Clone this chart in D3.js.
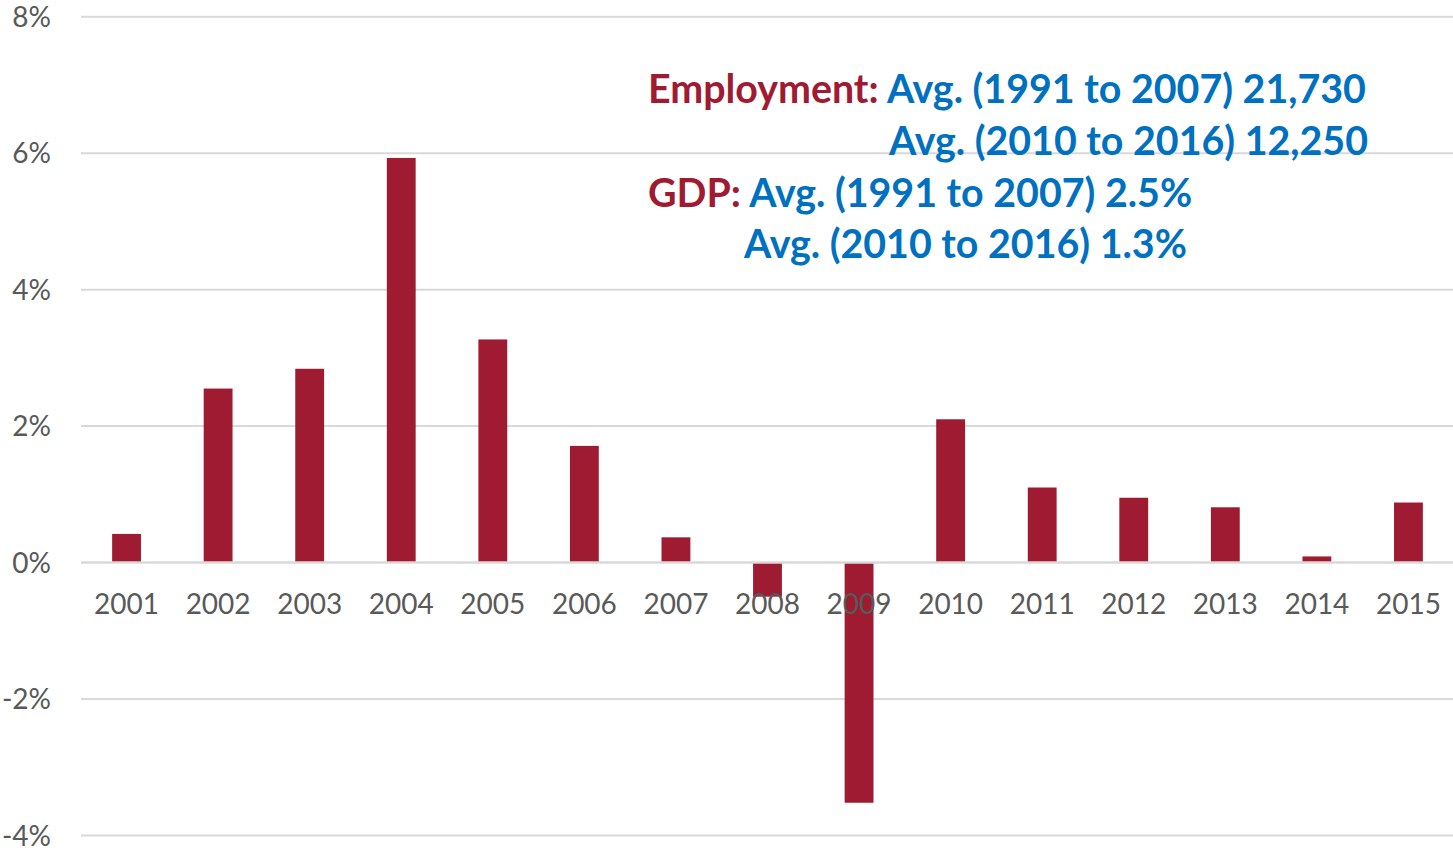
<!DOCTYPE html>
<html><head><meta charset="utf-8">
<script src="https://cdn.jsdelivr.net/npm/d3@7"></script>
<style>body{margin:0;background:#fff}svg{display:block}</style>
</head><body>
<svg id="chart" width="1453" height="850"></svg>
<script>
const years = ["2001","2002","2003","2004","2005","2006","2007","2008","2009","2010","2011","2012","2013","2014","2015"];
const gdpGrowth = [0.42, 2.55, 2.84, 5.93, 3.27, 1.71, 0.37, -0.50, -3.52, 2.10, 1.10, 0.95, 0.81, 0.09, 0.88];
const yTicks = [-4, -2, 0, 2, 4, 6, 8];
const annotationLines = [
  {label: "Employment: ", text: "Avg. (1991 to 2007) 21,730"},
  {label: "", text: "Avg. (2010 to 2016) 12,250"},
  {label: "GDP: ", text: "Avg. (1991 to 2007) 2.5%"},
  {label: "", text: "Avg. (2010 to 2016) 1.3%"}
];

const svg = d3.select("#chart");
const red = "#9E1B32", blue = "#0070C0", grey = "#595959", grid = "#D9D9D9";
const font = "Lato, 'Open Sans', sans-serif";

const x = d3.scaleBand().domain(years).range([81, 1454]).paddingInner(0.685).paddingOuter(0.34);
const y = d3.scaleLinear().domain([-4, 8]).range([835.5, 16.7]);

const yAxis = d3.axisLeft(y).tickValues(yTicks).tickFormat(d => d + "%").tickSize(0).tickPadding(0);
const gY = svg.append("g").attr("transform", "translate(51,0)").call(yAxis);
gY.select(".domain").remove();
gY.selectAll("text").attr("font-family", font).attr("font-size", 28).attr("fill", grey).attr("dy", "0.35em");

svg.append("g").selectAll("line").data(yTicks.filter(d => d !== 0)).join("line")
  .attr("x1", 81).attr("x2", 1453).attr("y1", d => y(d)).attr("y2", d => y(d))
  .attr("stroke", grid).attr("stroke-width", 2);

svg.append("g").selectAll("rect").data(years.map((yr, i) => ({yr, v: gdpGrowth[i]}))).join("rect")
  .attr("x", d => x(d.yr)).attr("width", x.bandwidth())
  .attr("y", d => y(Math.max(0, d.v))).attr("height", d => Math.abs(y(d.v) - y(0)))
  .attr("fill", red);

svg.append("line").attr("x1", 81).attr("x2", 1453).attr("y1", y(0)).attr("y2", y(0))
  .attr("stroke", grid).attr("stroke-width", 2.5);

const xAxis = d3.axisBottom(x).tickSize(0).tickPadding(0);
const gX = svg.append("g").attr("transform", "translate(0,614)").call(xAxis);
gX.select(".domain").remove();
gX.selectAll("text").attr("font-family", font).attr("font-size", 28).attr("fill", grey).attr("dy", 0);

const starts = [648, 889, 648, 744];
const baselines = [103, 155, 206.5, 258];
const ann = svg.append("g");
const texts = annotationLines.map((l, i) => {
  const t = ann.append("text").attr("x", starts[i]).attr("y", baselines[i])
    .attr("font-family", font).attr("font-weight", 700).attr("font-size", 40);
  if (l.label) t.append("tspan").attr("fill", red).text(l.label);
  t.append("tspan").attr("fill", blue).text(l.text);
  return t;
});
const len0 = texts[0].node().getComputedTextLength();
const fs = 40 * (1366 - 648) / len0;
texts.forEach(t => t.attr("font-size", fs));
</script>
</body></html>
